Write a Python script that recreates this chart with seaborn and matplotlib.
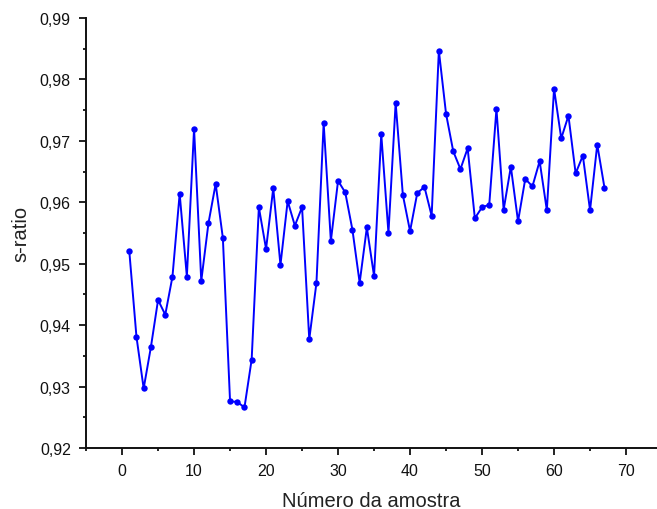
import seaborn as sns
import matplotlib
matplotlib.use("Agg")
import matplotlib.pyplot as plt
from matplotlib.ticker import MultipleLocator, FuncFormatter
import numpy as np
import pandas as pd

# s-ratio per sample
sample_numbers = np.arange(1, 68)
s_ratio = [
    0.9521, 0.9381, 0.9297, 0.9364, 0.9441, 0.9417, 0.9479, 0.9614, 0.9479, 0.9720,
    0.9472, 0.9566, 0.9630, 0.9542, 0.9276, 0.9275, 0.9266, 0.9344, 0.9592, 0.9524,
    0.9623, 0.9498, 0.9602, 0.9562, 0.9592, 0.9377, 0.9469, 0.9729, 0.9537, 0.9635,
    0.9616, 0.9555, 0.9469, 0.9559, 0.9480, 0.9711, 0.9550, 0.9762, 0.9612, 0.9553,
    0.9615, 0.9625, 0.9578, 0.9847, 0.9744, 0.9683, 0.9654, 0.9688, 0.9574, 0.9592,
    0.9596, 0.9752, 0.9588, 0.9658, 0.9569, 0.9638, 0.9626, 0.9667, 0.9587, 0.9785,
    0.9704, 0.9741, 0.9647, 0.9676, 0.9587, 0.9694, 0.9624,
]
x_label = "Número da amostra"
y_label = "s-ratio"

df = pd.DataFrame({"amostra": sample_numbers, "s_ratio": s_ratio})

sns.set_theme(style="ticks")
plt.rcParams["font.family"] = ["Liberation Sans", "DejaVu Sans"]

fig = plt.figure(figsize=(6.57, 5.10), dpi=100)
ax = fig.add_axes([0.131, 0.1196, 0.869, 0.8431])

sns.lineplot(data=df, x="amostra", y="s_ratio", ax=ax, color="#0000ff",
             linewidth=1.4, marker="o", markersize=4.6, markeredgewidth=0)

ax.set_xlim(-5, 74.3)
ax.set_ylim(0.92, 0.99)

ax.xaxis.set_major_locator(MultipleLocator(10))
ax.xaxis.set_minor_locator(MultipleLocator(5))
ax.yaxis.set_major_locator(MultipleLocator(0.01))
ax.yaxis.set_minor_locator(MultipleLocator(0.005))

# decimal comma as in the original
ax.yaxis.set_major_formatter(FuncFormatter(lambda v, p: f"{v:.2f}".replace(".", ",")))
ax.xaxis.set_major_formatter(FuncFormatter(lambda v, p: f"{v:.0f}"))

ax.tick_params(which="major", direction="out", length=5, width=1.3,
               labelsize=11.5, colors="#111111", pad=6)
ax.tick_params(which="minor", direction="out", length=2.5, width=1.3, colors="#111111")

for side in ["top", "right"]:
    ax.spines[side].set_visible(False)
for side in ["left", "bottom"]:
    ax.spines[side].set_linewidth(1.4)
    ax.spines[side].set_color("#111111")

ax.set_xlabel(x_label, fontsize=14.5, color="#222222", labelpad=9)
ax.set_ylabel(y_label, fontsize=14.5, color="#222222", labelpad=7)

fig.savefig("out.png", dpi=100)
